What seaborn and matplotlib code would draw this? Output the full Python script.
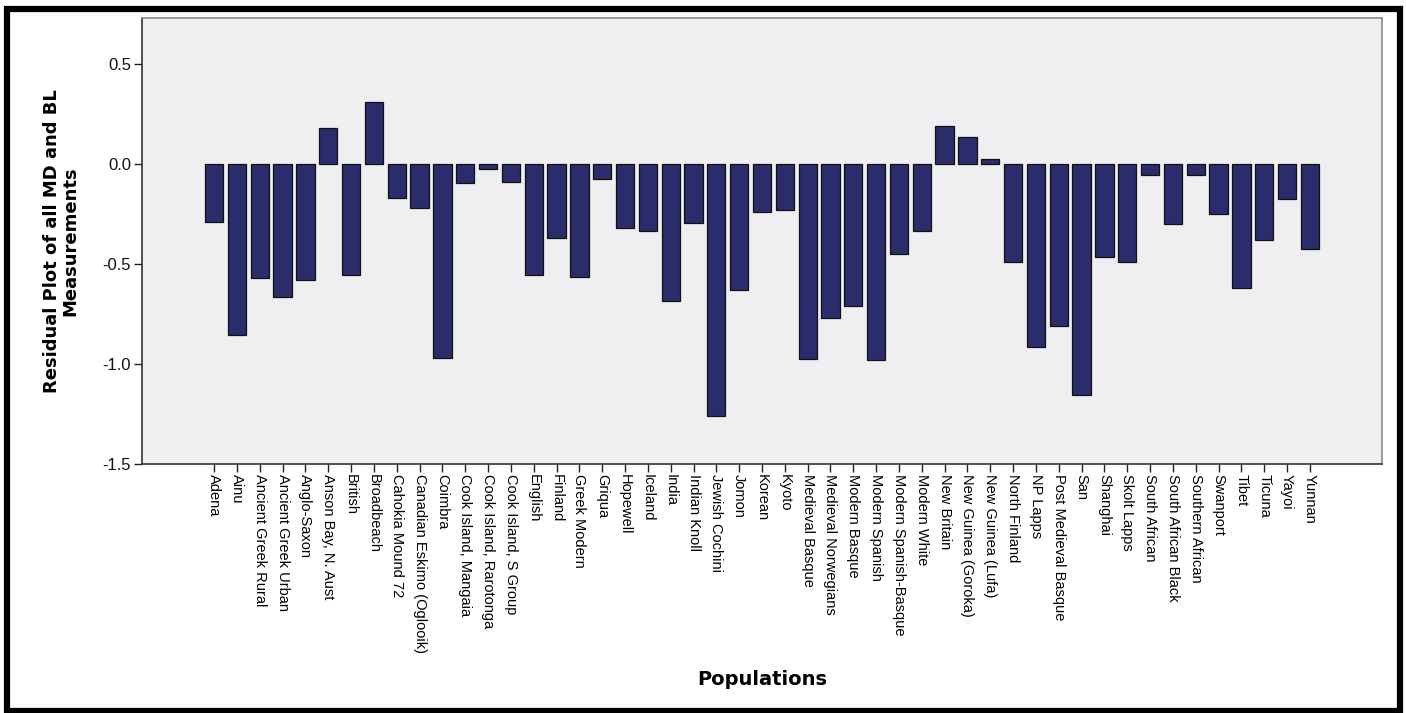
import pandas as pd
import numpy as np
import matplotlib
matplotlib.use('Agg')
import matplotlib.pyplot as plt
from matplotlib.patches import Rectangle
import seaborn as sns

populations = [
    'Adena', 'Ainu', 'Ancient Greek Rural', 'Ancient Greek Urban', 'Anglo-Saxon',
    'Anson Bay, N. Aust', 'British', 'Broadbeach', 'Cahokia Mound 72',
    'Canadian Eskimo (Oglooik)', 'Coimbra', 'Cook Island, Mangaia',
    'Cook Island, Rarotonga', 'Cook Island, S Group', 'English', 'Finland',
    'Greek Modern', 'Griqua', 'Hopewell', 'Iceland', 'India', 'Indian Knoll',
    'Jewish Cochini', 'Jomon', 'Korean', 'Kyoto', 'Medieval Basque',
    'Medieval Norwegians', 'Modern Basque', 'Modern Spanish',
    'Modern Spanish-Basque', 'Modern White', 'New Britain', 'New Guinea (Goroka)',
    'New Guinea (Lufa)', 'North Finland', 'NP Lapps', 'Post Medieval Basque',
    'San', 'Shanghai', 'Skolt Lapps', 'South African', 'South African Black',
    'Southern African', 'Swanport', 'Tibet', 'Ticuna', 'Yayoi', 'Yunnan',
]
residuals = [
    -0.29, -0.855, -0.57, -0.665, -0.58,
    0.18, -0.555, 0.31, -0.17,
    -0.22, -0.97, -0.095,
    -0.025, -0.09, -0.555, -0.37,
    -0.565, -0.075, -0.32, -0.335, -0.685, -0.295,
    -1.26, -0.63, -0.24, -0.23, -0.975,
    -0.77, -0.71, -0.98,
    -0.45, -0.335, 0.19, 0.135,
    0.025, -0.49, -0.915, -0.81,
    -1.155, -0.465, -0.49, -0.055, -0.30,
    -0.055, -0.25, -0.62, -0.38, -0.175, -0.425,
]
y_ticks = [-1.5, -1.0, -0.5, 0.0, 0.5]

df = pd.DataFrame({'Population': populations, 'Residual': residuals})

sns.set_theme(style='white', rc={'axes.facecolor': '#EFEFF1'})
plt.rcParams['font.family'] = ['Liberation Sans', 'DejaVu Sans']

fig = plt.figure(figsize=(14.06, 7.13), dpi=100)
ax = fig.add_axes([142 / 1406, 1 - 464 / 713, 1240 / 1406, 446 / 713])

sns.barplot(data=df, x='Population', y='Residual', order=populations,
            color='#2B2C6B', saturation=1, edgecolor='#111111', linewidth=0.9,
            width=0.8, ax=ax)

ax.set_ylim(-1.5, 0.73)
ax.set_xlim(-3.16, len(populations) - 1 + 3.16)
ax.set_yticks(y_ticks)
ax.set_yticklabels([f'{t:.1f}' for t in y_ticks], fontsize=12, color='#111111')
ax.set_xticks(range(len(populations)))
ax.set_xticklabels(populations, rotation=270, fontsize=10.5, color='black',
                   ha='center', va='top')
ax.tick_params(axis='both', which='major', direction='out', length=6, width=1,
               color='#222222', bottom=True, left=True)
ax.tick_params(axis='x', pad=1)
ax.tick_params(axis='y', pad=2)

for side in ['left', 'bottom']:
    ax.spines[side].set_color('#333333')
    ax.spines[side].set_linewidth(1.2)
for side in ['top', 'right']:
    ax.spines[side].set_color('#8A8A8A')
    ax.spines[side].set_linewidth(1.2)

ax.set_ylabel('Residual Plot of all MD and BL\nMeasurements', family='DejaVu Sans',
              fontweight='bold', fontsize=13, linespacing=1.05, color='black')
ax.yaxis.set_label_coords(-0.065, 0.5)
ax.yaxis.label.set_verticalalignment('center')
ax.set_xlabel('Populations', family='DejaVu Sans', fontweight='bold', fontsize=14,
              color='black')
ax.xaxis.set_label_coords(0.5, -0.462)
ax.xaxis.label.set_verticalalignment('top')

# outer black frame
fig.patches.append(Rectangle((6.5 / 1406, 2.5 / 713), 1393 / 1406, 702 / 713,
                             transform=fig.transFigure, fill=False,
                             edgecolor='black', linewidth=4.5))

plt.savefig('out.png', dpi=100)
plt.close()
